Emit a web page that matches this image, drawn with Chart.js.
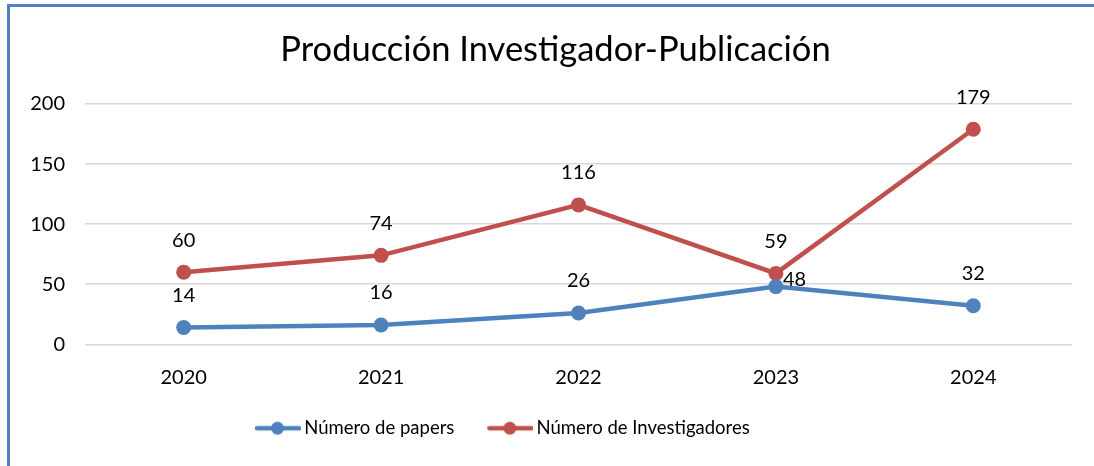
<!DOCTYPE html>
<html>
<head>
<meta charset="utf-8">
<script src="https://cdn.jsdelivr.net/npm/chart.js@4.4.1/dist/chart.umd.min.js"></script>
<style>
  html, body { margin: 0; padding: 0; background: #fff; }
  #wrap { position: relative; width: 1094px; height: 466px; overflow: hidden; }
  #frame { position: absolute; left: 7px; top: 4px; width: 1200px; height: 600px;
           border: 3px solid #4f81bd; box-sizing: border-box; pointer-events: none; }
</style>
</head>
<body>
<div id="wrap">
  <canvas id="chart" width="1094" height="466"></canvas>
  <div id="frame"></div>
</div>
<script>
const years = ["2020", "2021", "2022", "2023", "2024"];
const papers = [14, 16, 26, 48, 32];
const researchers = [60, 74, 116, 59, 179];
const yTicks = [0, 50, 100, 150, 200];

const BLUE = "#4f81bd";
const RED = "#c0504d";
const FONT = "Lato, 'Open Sans', sans-serif";

// legend marker: line with a dot, drawn into the right part of a wider image
function legendMarker(color){
  const c = document.createElement("canvas");
  c.width = 68; c.height = 16;
  const g = c.getContext("2d");
  g.strokeStyle = color; g.lineWidth = 4.5; g.lineCap = "round";
  g.beginPath(); g.moveTo(24, 8); g.lineTo(66, 8); g.stroke();
  g.fillStyle = color;
  g.beginPath(); g.arc(44.5, 8, 6.5, 0, Math.PI * 2); g.fill();
  return c;
}

// value labels above the points (one goes to the right, like the original)
const valueLabels = {
  id: "valueLabels",
  afterDatasetsDraw(chart){
    const ctx = chart.ctx;
    ctx.save();
    ctx.font = "20px " + FONT;
    ctx.fillStyle = "#000";
    ctx.textBaseline = "middle";
    chart.data.datasets.forEach((ds, i) => {
      chart.getDatasetMeta(i).data.forEach((pt, j) => {
        const txt = String(ds.data[j]);
        if (ds.labelRight && ds.labelRight.includes(j)) {
          ctx.textAlign = "left";
          ctx.fillText(txt, pt.x + 7, pt.y - 7);
        } else {
          ctx.textAlign = "center";
          ctx.fillText(txt, pt.x, pt.y - 32);
        }
      });
    });
    ctx.restore();
  }
};

// title and legend are not centred on the canvas in the original
const boxShift = {
  id: "boxShift",
  afterLayout(chart){
    chart.titleBlock.left = 39;
    const lg = chart.legend;
    const w = lg.right - lg.left;
    lg.left = 222;
    lg.right = lg.left + w;
  }
};

new Chart(document.getElementById("chart"), {
  type: "line",
  data: {
    labels: years,
    datasets: [
      {
        label: "Número de papers",
        data: papers,
        borderColor: BLUE,
        backgroundColor: BLUE,
        borderWidth: 4.5,
        pointRadius: 7.5,
        pointHoverRadius: 7.5,
        pointBorderWidth: 0,
        labelRight: [3]
      },
      {
        label: "Número de Investigadores",
        data: researchers,
        borderColor: RED,
        backgroundColor: RED,
        borderWidth: 4.5,
        pointRadius: 7.5,
        pointHoverRadius: 7.5,
        pointBorderWidth: 0
      }
    ]
  },
  options: {
    responsive: false,
    animation: false,
    layout: { padding: { left: 0, right: 22, top: 0, bottom: 18.5 } },
    plugins: {
      title: {
        display: true,
        text: "Producción Investigador-Publicación",
        color: "#000",
        font: { family: FONT, size: 34.5, weight: "normal" },
        padding: { top: 29.3, bottom: 33.3 }
      },
      legend: {
        position: "bottom",
        align: "start",
        labels: {
          color: "#000",
          font: { family: FONT, size: 18.5 },
          usePointStyle: true,
          pointStyleWidth: 56,
          padding: 17,
          generateLabels(chart){
            const items = Chart.defaults.plugins.legend.labels.generateLabels(chart);
            items.forEach(it => { it.pointStyle = legendMarker(chart.data.datasets[it.datasetIndex].borderColor); });
            return items;
          }
        }
      },
      tooltip: { enabled: false }
    },
    scales: {
      x: {
        offset: true,
        grid: { display: false, drawTicks: false },
        border: { display: false },
        ticks: { color: "#000", font: { family: FONT, size: 20 }, padding: 21 },
        afterFit(s){ s.height = 57.75; }
      },
      y: {
        min: 0,
        max: 200,
        afterBuildTicks(s){ s.ticks = yTicks.map(v => ({ value: v })); },
        grid: { color: "#d9d9d9", lineWidth: 1.5, drawTicks: false },
        border: { display: false },
        ticks: { color: "#000", font: { family: FONT, size: 20 }, padding: 20 },
        afterFit(s){ s.width = 85; }
      }
    }
  },
  plugins: [valueLabels, boxShift]
});
</script>
</body>
</html>
